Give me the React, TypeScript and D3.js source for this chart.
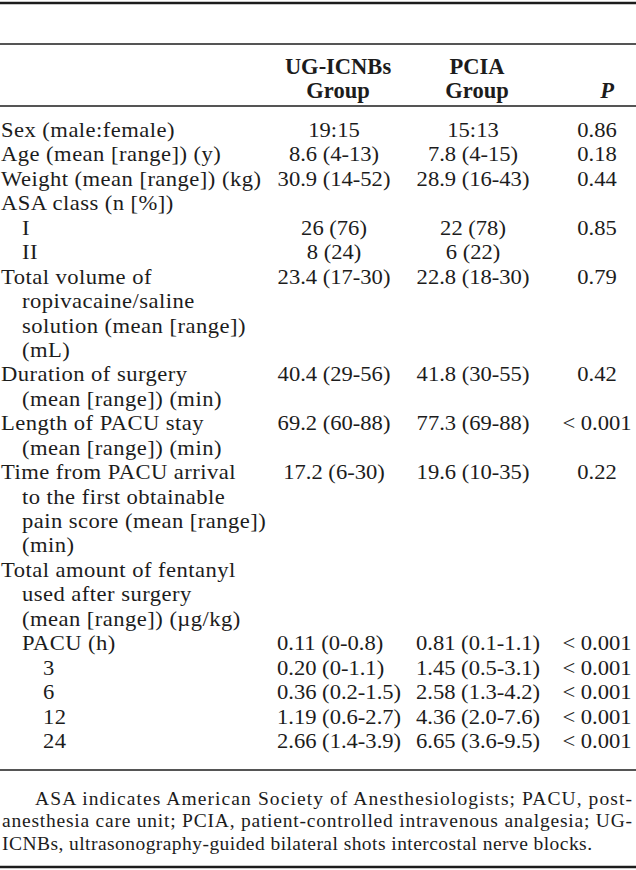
import React from "react";
import * as d3 from "d3";

// table content, one entry per row
const rowLabels: string[][] = [
  ["Sex (male:female)"],
  ["Age (mean [range]) (y)"],
  ["Weight (mean [range]) (kg)"],
  ["ASA class (n [%])"],
  ["I"],
  ["II"],
  ["Total volume of", "ropivacaine/saline", "solution (mean [range])", "(mL)"],
  ["Duration of surgery", "(mean [range]) (min)"],
  ["Length of PACU stay", "(mean [range]) (min)"],
  ["Time from PACU arrival", "to the first obtainable", "pain score (mean [range])", "(min)"],
  ["Total amount of fentanyl", "used after surgery", "(mean [range]) (\u00b5g/kg)"],
  ["PACU (h)"],
  ["3"],
  ["6"],
  ["12"],
  ["24"],
];
const rowLevels = [0, 0, 0, 0, 1, 1, 0, 0, 0, 0, 0, 1, 2, 2, 2, 2];

const ugValues = ["19:15", "8.6 (4-13)", "30.9 (14-52)", "", "26 (76)", "8 (24)", "23.4 (17-30)",
  "40.4 (29-56)", "69.2 (60-88)", "17.2 (6-30)", "", "0.11 (0-0.8)", "0.20 (0-1.1)",
  "0.36 (0.2-1.5)", "1.19 (0.6-2.7)", "2.66 (1.4-3.9)"];
const pciaValues = ["15:13", "7.8 (4-15)", "28.9 (16-43)", "", "22 (78)", "6 (22)", "22.8 (18-30)",
  "41.8 (30-55)", "77.3 (69-88)", "19.6 (10-35)", "", "0.81 (0.1-1.1)", "1.45 (0.5-3.1)",
  "2.58 (1.3-4.2)", "4.36 (2.0-7.6)", "6.65 (3.6-9.5)"];
const pValues = ["0.86", "0.18", "0.44", "", "0.85", "", "0.79", "0.42", "< 0.001", "0.22", "",
  "< 0.001", "< 0.001", "< 0.001", "< 0.001", "< 0.001"];

const headers = [["UG-ICNBs", "Group"], ["PCIA", "Group"], ["", "P"]];

const footnote = [
  "ASA indicates American Society of Anesthesiologists; PACU, post-",
  "anesthesia care unit; PCIA, patient-controlled intravenous analgesia; UG-",
  "ICNBs, ultrasonography-guided bilateral shots intercostal nerve blocks.",
];

const W = 636;
const H = 870;
const FONT = "'Liberation Serif', 'Times New Roman', serif";
const INK = "#1c1c1c";

export default function App() {
  // first line index of each row
  const starts: number[] = [];
  rowLabels.reduce((acc, lines) => {
    starts.push(acc);
    return acc + lines.length;
  }, 0);
  const totalLines = d3.sum(rowLabels, (d) => d.length);

  const y = d3.scaleLinear().domain([0, totalLines - 1]).range([137, 748]);
  const indent = d3.scaleLinear().domain([0, 2]).range([1, 43]);
  const col = d3.scaleOrdinal<number, number>().domain([0, 1, 2]).range([334, 473, 597]);
  const blockStart = 57; // fentanyl rows are left aligned as a block

  const stretch = "scale(1.05,1)";
  const fs = 21.5;

  const cell = (v: string, c: number, r: number) => {
    if (!v) return null;
    const block = r >= 11 && c < 2;
    const x = block ? col(c) - blockStart : col(c);
    return (
      <text key={`c${c}-${r}`} transform={`translate(${x},${y(starts[r])}) ${stretch}`}
        textAnchor={block ? "start" : "middle"} fontSize={fs}>{v}</text>
    );
  };

  return (
    <svg width={W} height={H} style={{ position: "absolute", left: 0, top: 0, background: "#fff" }}
      fontFamily={FONT} fill={INK}>
      <rect width={W} height={H} fill="#fff" />
      <g stroke={INK}>
        <line x1={0} x2={W} y1={3} y2={3} strokeWidth={2.5} />
        <line x1={0} x2={W} y1={44} y2={44} strokeWidth={1.6} />
        <line x1={0} x2={W} y1={106} y2={106} strokeWidth={1.6} />
        <line x1={0} x2={W} y1={770} y2={770} strokeWidth={1.6} />
        <line x1={0} x2={W} y1={867} y2={867} strokeWidth={2.5} />
      </g>

      {headers.map((h, c) => (
        <g key={`h${c}`} fontWeight="bold" fontSize={22.5} textAnchor="middle">
          <text transform={`translate(${col(c) + (c === 2 ? 10 : 4)},74)`}>{h[0]}</text>
          <text transform={`translate(${col(c) + (c === 2 ? 10 : 4)},98)`}
            fontStyle={c === 2 ? "italic" : "normal"}>{h[1]}</text>
        </g>
      ))}

      {rowLabels.map((lines, r) =>
        lines.map((t, i) => (
          <text key={`l${r}-${i}`}
            transform={`translate(${indent(i === 0 ? rowLevels[r] : 1)},${y(starts[r] + i)}) ${stretch}`}
            fontSize={fs} letterSpacing={0.45}>{t}</text>
        ))
      )}

      {ugValues.map((v, r) => cell(v, 0, r))}
      {pciaValues.map((v, r) => cell(v, 1, r))}
      {pValues.map((v, r) => cell(v, 2, r))}

      {footnote.map((t, i) => (
        <text key={`f${i}`} x={i === 0 ? 35 : 2} y={805 + i * 22.3} fontSize={19.5}
          textLength={i === 0 ? 597 : i === 1 ? 630 : 590} lengthAdjust="spacing">{t}</text>
      ))}
    </svg>
  );
}
